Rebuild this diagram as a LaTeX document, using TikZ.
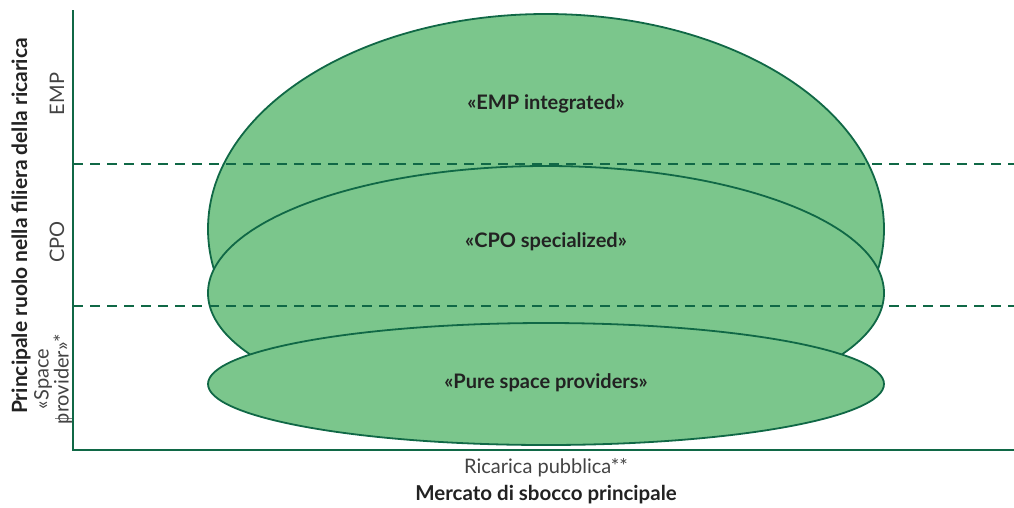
\documentclass[tikz,border=0pt]{standalone}
\usepackage{fontspec}
\setmainfont{Lato}
\definecolor{fillg}{RGB}{123,198,140}
\definecolor{lineg}{RGB}{16,104,70}
\definecolor{txt}{RGB}{34,34,34}
\begin{document}
\begin{tikzpicture}[x=1pt,y=-1pt,
  blob/.style={draw=lineg,line width=1.8pt,fill=fillg},
  lbl/.style={font=\fontsize{20}{24}\selectfont\bfseries,text=txt},
  axlbl/.style={font=\fontsize{20}{23}\selectfont,text=txt!85!white},
  divider/.style={draw=lineg,line width=2pt,dash pattern=on 10pt off 7pt},
  axis/.style={draw=lineg,line width=2pt}]
\useasboundingbox (0,0) rectangle (1014,507);
% ellipses
\draw[blob] (546,229) ellipse [x radius=338, y radius=215];
\draw[blob] (546,293) ellipse [x radius=338, y radius=127];
\draw[blob] (546,384) ellipse [x radius=338, y radius=61];
% dividers
\coordinate (d1a) at (73,164); \coordinate (d1b) at (1014,164);
\coordinate (d2a) at (73,306); \coordinate (d2b) at (1014,306);
\draw[divider] (d1a) -- (d1b);
\draw[divider] (d2a) -- (d2b);
% axes
\coordinate (top) at (73,10);
\coordinate (origin) at (73,450);
\coordinate (right) at (1014,450);
\draw[axis] (top) -- (origin) -- (right);
\coordinate (tk1) at (55,418); \coordinate (tk2) at (72,418);
\draw[gray,line width=0.8pt] (tk1) -- (tk2);
% labels in ellipses
\node[lbl] (emp) at (546,104) {«EMP integrated»};
\node[lbl] (cpo) at (546,242) {«CPO specialized»};
\node[lbl] (pure) at (546,383) {«Pure space providers»};
% y-axis labels
\node[font=\fontsize{21}{24}\selectfont\bfseries,text=txt,rotate=90] (ytitle) at (21,226) {Principale ruolo nella filiera della ricarica};
\node[axlbl,rotate=90] (yemp) at (57,94) {EMP};
\node[axlbl,rotate=90] (ycpo) at (57,242) {CPO};
\node[axlbl,rotate=90,align=center,font=\fontsize{20}{20}\selectfont] (ysp) at (53,379) {«Space\\provider»*};
% x-axis labels
\node[axlbl] (xcat) at (546,468) {Ricarica pubblica**};
\node[font=\fontsize{20.5}{24}\selectfont\bfseries,text=txt] (xtitle) at (546,495) {Mercato di sbocco principale};
\end{tikzpicture}
\end{document}
